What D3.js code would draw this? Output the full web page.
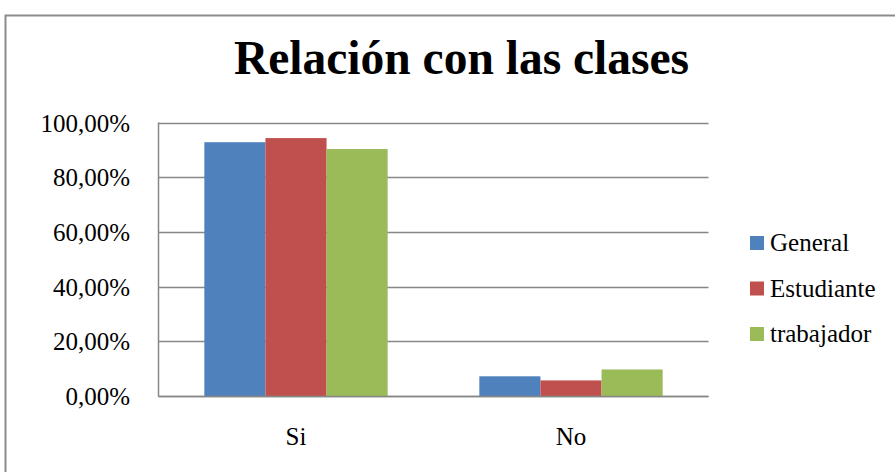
<!DOCTYPE html>
<html><head><meta charset="utf-8">
<script src="https://cdn.jsdelivr.net/npm/d3@7"></script>
<style>body{margin:0;background:#fff}svg{display:block}</style>
</head><body>
<script>
const categories = ["Si", "No"];
const seriesNames = ["General", "Estudiante", "trabajador"];
const general = [92.8, 7.2];
const estudiante = [94.3, 5.7];
const trabajador = [90.3, 9.7];
const yTicks = [0, 20, 40, 60, 80, 100];
const yTickLabels = ["0,00%", "20,00%", "40,00%", "60,00%", "80,00%", "100,00%"];
const colors = ["#4F81BD", "#C0504D", "#9BBB59"];
const title = "Relación con las clases";

const FONT = "'Times New Roman', 'Liberation Serif', Tinos, serif";
const values = [general, estudiante, trabajador];
const W = 895, H = 472;
const svg = d3.select("body").append("svg").attr("width", W).attr("height", H)
  .style("font-family", FONT);

// outer chart border
svg.append("path").attr("d", `M5.5,${H+5} L5.5,15.5 L${W+5},15.5`)
  .attr("fill", "none").attr("stroke", "#8c8c8c").attr("stroke-width", 2);

const plot = {left: 158.5, right: 708.5, top: 122.5, bottom: 396};
const y = d3.scaleLinear().domain([0, 100]).range([plot.bottom, plot.top]);
const x0 = d3.scaleBand().domain(categories).range([plot.left, plot.right]).paddingInner(0).paddingOuter(0);
const x1 = d3.scaleBand().domain(seriesNames).range([0, x0.bandwidth()]).paddingInner(0).paddingOuter(0.75);

// gridlines
svg.append("g").selectAll("line").data(yTicks).join("line")
  .attr("x1", plot.left).attr("x2", plot.right)
  .attr("y1", d => Math.round(y(d)) + 0.5).attr("y2", d => Math.round(y(d)) + 0.5)
  .attr("stroke", "#878787").attr("stroke-width", 1.5);

// bars
const g = svg.append("g");
seriesNames.forEach((s, i) => {
  g.selectAll(null).data(categories).join("rect")
    .attr("x", c => x0(c) + x1(s))
    .attr("y", (c, j) => y(values[i][j]))
    .attr("width", x1.bandwidth())
    .attr("height", (c, j) => plot.bottom - y(values[i][j]))
    .attr("fill", colors[i]);
});

// axes lines
svg.append("line").attr("x1", plot.left).attr("x2", plot.left).attr("y1", plot.top).attr("y2", plot.bottom + 0.5)
  .attr("stroke", "#878787").attr("stroke-width", 1.5);
svg.append("line").attr("x1", plot.left).attr("x2", plot.right).attr("y1", plot.bottom + 0.5).attr("y2", plot.bottom + 0.5)
  .attr("stroke", "#878787").attr("stroke-width", 1.5);

// y tick labels
svg.append("g").selectAll("text").data(yTicks).join("text")
  .attr("x", 130).attr("y", d => y(d) + 9)
  .attr("text-anchor", "end").attr("font-size", 25).style("font-family", FONT)
  .text((d, i) => yTickLabels[i]);

// x labels
svg.append("g").selectAll("text").data(categories).join("text")
  .attr("x", d => x0(d) + x0.bandwidth() / 2).attr("y", 445)
  .attr("text-anchor", "middle").attr("font-size", 25).style("font-family", FONT)
  .text(d => d);

// title
svg.append("text").attr("x", 461.5).attr("y", 74).attr("text-anchor", "middle")
  .attr("font-size", 47.5).attr("font-weight", "bold").style("font-family", FONT).text(title);

// legend
const lg = svg.append("g").selectAll("g").data(seriesNames).join("g")
  .attr("transform", (d, i) => `translate(750,${236 + i * 45.5})`);
lg.append("rect").attr("width", 14).attr("height", 14).attr("fill", (d, i) => colors[i]);
lg.append("text").attr("x", 20).attr("y", 15).attr("font-size", 25).style("font-family", FONT).text(d => d);
</script>
</body></html>
